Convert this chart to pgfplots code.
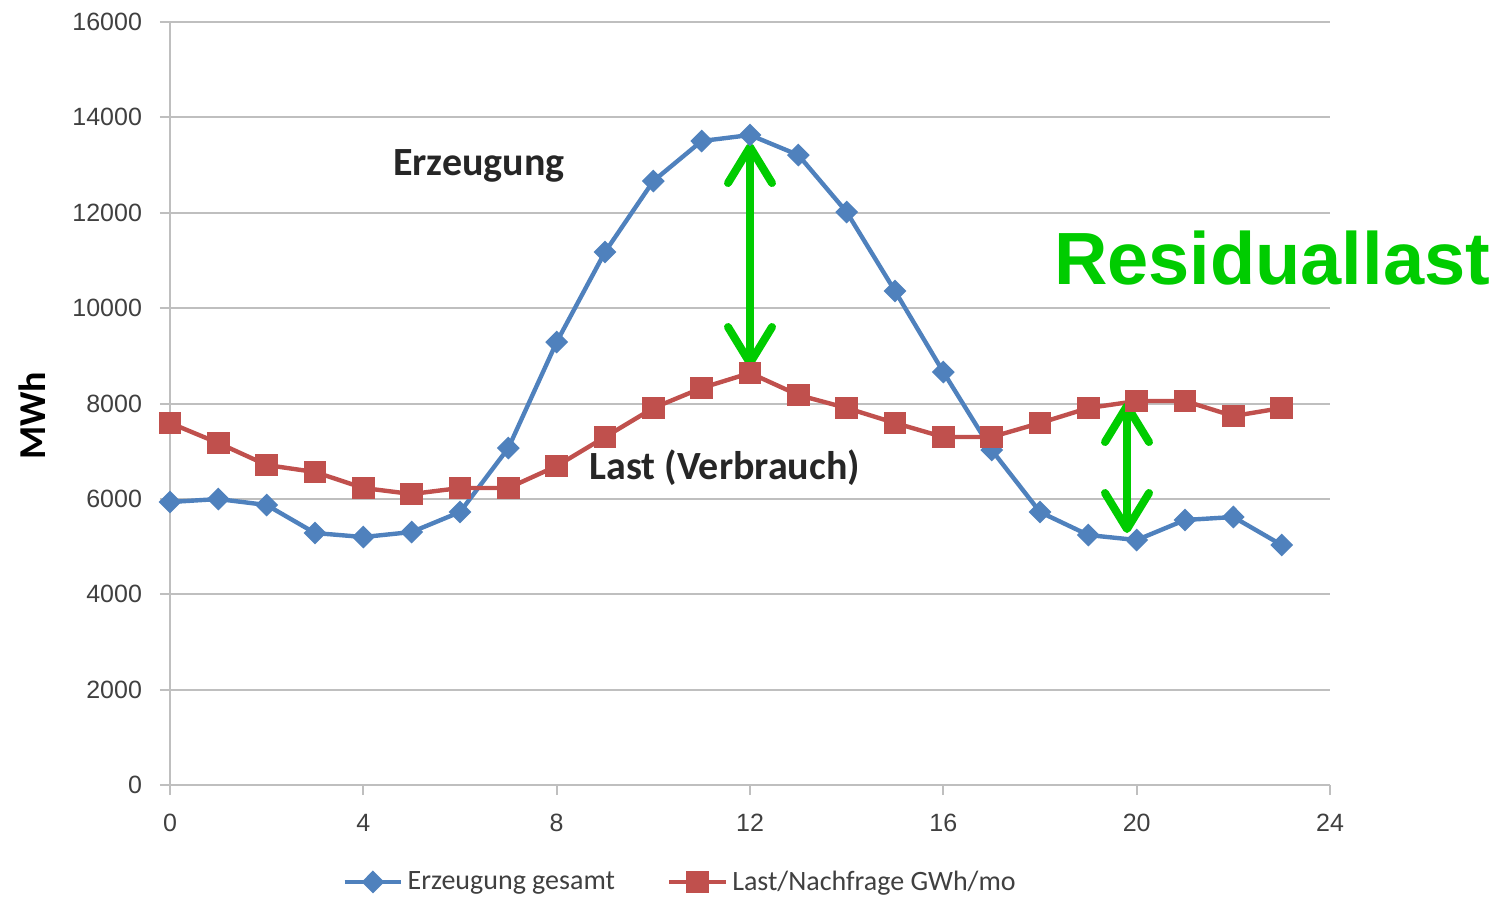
\documentclass[border=0pt]{standalone}
\usepackage{fontspec}
\setmainfont{Carlito}
\newfontfamily\arial{Liberation Sans}
\usepackage{pgfplots}
\pgfplotsset{compat=1.18}
\usetikzlibrary{arrows.meta}
\definecolor{cblue}{HTML}{4F81BD}
\definecolor{cred}{HTML}{C0504D}
\definecolor{cgreen}{HTML}{00CC00}
\definecolor{cgrid}{HTML}{BFBFBF}
\definecolor{ctick}{HTML}{404040}
\begin{document}
\begin{tikzpicture}
\begin{axis}[
  scale only axis, width=580pt, height=381.5pt,
  at={(0,0)}, anchor=south west,
  xmin=0, xmax=24, ymin=0, ymax=16000,
  xtick={0,4,...,24}, ytick={0,2000,...,16000},
  scaled y ticks=false,
  axis lines=left, axis line style={-, cgrid, line width=1pt},
  x axis line style={draw=none},
  ymajorgrids, grid style={cgrid, line width=1pt},
  major tick length=5pt,
  tick style={cgrid, line width=1pt},
  xtick align=outside, ytick align=outside,
  /pgf/number format/1000 sep={},
  /pgf/number format/assume math mode=true,
  ticklabel style={font=\arial\fontsize{12.5}{14}\selectfont, text=ctick},
  yticklabel style={xshift=-5.5pt},
  xticklabel style={yshift=-6pt},
  ylabel={\bfseries MWh},
  every axis y label/.style={at={(rel axis cs:-0.119,0.484)}, rotate=90, anchor=center, font=\fontsize{19}{22}\selectfont, text=black},
  clip=false,
  legend columns=2,
  legend style={at={(rel axis cs:0.4405,-0.127)}, anchor=center, draw=none,
    font=\fontsize{14}{16}\selectfont, text=ctick,
    /tikz/every even column/.append style={column sep=24pt}},
  legend image code/.code={\draw[#1, mark repeat=2, mark phase=2] plot coordinates {(0cm,0cm) (0.5cm,0cm) (1cm,0cm)};},
]
\addplot[color=cblue, line width=2.2pt, mark=diamond*, mark size=5pt, mark options={solid, xscale=1.33, line width=1pt}]
coordinates {(0,5934)(1,5997)(2,5871)(3,5284)(4,5200)(5,5305)(6,5724)(7,7066)(8,9289)(9,11176)(10,12665)(11,13504)(12,13630)(13,13210)(14,12015)(15,10358)(16,8660)(17,7025)(18,5724)(19,5242)(20,5137)(21,5557)(22,5620)(23,5033)};
\addlegendentry{Erzeugung gesamt}
\addplot[color=cred, line width=2.2pt, mark=square*, mark size=5.2pt, mark options={solid, line width=1pt}]
coordinates {(0,7591)(1,7171)(2,6710)(3,6563)(4,6228)(5,6102)(6,6228)(7,6228)(8,6689)(9,7297)(10,7905)(11,8325)(12,8639)(13,8178)(14,7905)(15,7591)(16,7297)(17,7297)(18,7591)(19,7905)(20,8052)(21,8052)(22,7737)(23,7905)};
\addlegendentry{Last/Nachfrage GWh/mo}
\draw[cgreen, line width=4pt, {Straight Barb[length=18pt,width=22pt,round]}-{Straight Barb[length=18pt,width=22pt,round]}]
  (axis cs:12,13462) -- (axis cs:12,8765);
\draw[cgreen, line width=4pt, {Straight Barb[length=18pt,width=22pt,round]}-{Straight Barb[length=18pt,width=22pt,round]}]
  (axis cs:19.8,8031) -- (axis cs:19.8,5284);
\node[font=\bfseries\fontsize{20}{24}\selectfont, text=black!85] at (axis cs:6.39,12980) {Erzeugung};
\node[font=\bfseries\fontsize{20}{24}\selectfont, text=black!85] at (axis cs:11.48,6650) {Last (Verbrauch)};
\node[font=\arial\bfseries\fontsize{37}{44}\selectfont, text=cgreen] at (axis cs:22.8,11050) {Residuallast};
\end{axis}
\pgfresetboundingbox
\path[use as bounding box] (-85pt,-55.5pt) rectangle (663.5pt,392.5pt);
\end{tikzpicture}
\end{document}
